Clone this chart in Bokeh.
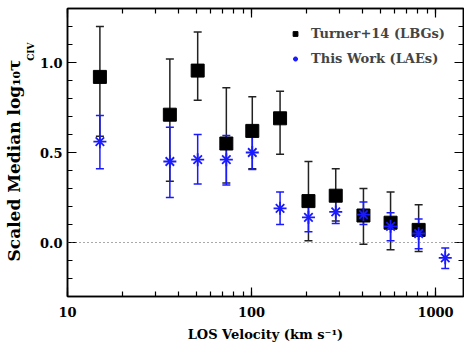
from bokeh.plotting import figure
from bokeh.models import (ColumnDataSource, Whisker, TeeHead, Span, Legend, LegendItem,
                          LinearAxis, LogAxis, Title, SingleIntervalTicker, LogTicker, Range1d,
                          PrintfTickFormatter)
from bokeh.embed import file_html
from bokeh.resources import INLINE

# Turner+14 (LBGs)
vel_t = [15, 36, 51, 73, 101, 143, 204, 287, 406, 570, 810]
med_t = [0.92, 0.71, 0.955, 0.55, 0.62, 0.69, 0.23, 0.26, 0.15, 0.11, 0.07]
lo_t = [0.59, 0.34, 0.79, 0.33, 0.41, 0.49, 0.01, 0.12, -0.01, -0.04, -0.05]
hi_t = [1.20, 1.02, 1.17, 0.86, 0.81, 0.84, 0.45, 0.41, 0.30, 0.28, 0.21]

# This Work (LAEs)
vel_l = [15, 36, 51, 73, 101, 143, 204, 287, 406, 570, 810, 1130]
med_l = [0.56, 0.45, 0.46, 0.46, 0.50, 0.19, 0.14, 0.17, 0.155, 0.09, 0.05, -0.085]
lo_l = [0.41, 0.25, 0.325, 0.32, 0.405, 0.10, 0.06, 0.105, 0.10, 0.01, -0.035, -0.145]
hi_l = [0.705, 0.64, 0.60, 0.595, 0.62, 0.28, 0.24, 0.235, 0.225, 0.165, 0.13, -0.03]

x_label = "LOS Velocity (km s\u207b\u00b9)"
y_label = "Scaled Median log\u2081\u2080\u03c4"
y_sub = "CIV"
names = ["Turner+14 (LBGs)", "This Work (LAEs)"]

FONT = "DejaVu Serif"
BLUE = "#1a1aff"

src_t = ColumnDataSource(dict(x=vel_t, y=med_t, lo=lo_t, hi=hi_t))
src_l = ColumnDataSource(dict(x=vel_l, y=med_l, lo=lo_l, hi=hi_l))

p = figure(width=464, height=344, x_axis_type="log",
           x_range=Range1d(10, 1420), y_range=Range1d(-0.3, 1.3),
           output_backend="svg", toolbar_location=None,
           min_border_left=67, min_border_right=1, min_border_top=8, min_border_bottom=46)
p.xgrid.visible = False
p.ygrid.visible = False
p.outline_line_color = "black"
p.outline_line_width = 1.5
p.background_fill_color = "white"
p.border_fill_color = "white"

def style_axis(ax, labels=True):
    ax.axis_line_color = "black"
    ax.axis_line_width = 1.5
    ax.major_tick_in = 9
    ax.major_tick_out = 0
    ax.minor_tick_in = 5
    ax.minor_tick_out = 0
    ax.major_tick_line_color = "black"
    ax.minor_tick_line_color = "black"
    ax.major_tick_line_width = 1.2
    ax.minor_tick_line_width = 1.2
    ax.major_label_text_font = FONT
    ax.major_label_text_font_style = "bold"
    ax.major_label_text_font_size = "13px"
    ax.major_label_text_color = "black"
    ax.axis_label_text_font = FONT
    ax.axis_label_text_font_style = "bold"
    ax.axis_label_text_font_size = "13px"
    ax.axis_label_text_color = "black"
    if not labels:
        ax.major_label_text_font_size = "1px"
        ax.major_label_text_alpha = 0
        ax.major_label_standoff = 0

yt = SingleIntervalTicker(interval=0.5, num_minor_ticks=5)
xt = LogTicker(num_minor_ticks=10)

p.xaxis.ticker = xt
p.yaxis.ticker = yt
style_axis(p.xaxis[0])
style_axis(p.yaxis[0])
p.xaxis.formatter = PrintfTickFormatter(format="%d")
p.yaxis.formatter = PrintfTickFormatter(format="%.1f")
p.xaxis.axis_label = x_label
p.xaxis.major_label_standoff = 10
p.xaxis.axis_label_standoff = 7
p.yaxis.major_label_standoff = 5

ra = LinearAxis(ticker=yt)
style_axis(ra, labels=False)
p.add_layout(ra, "right")
ta = LogAxis(ticker=xt)
style_axis(ta, labels=False)
p.add_layout(ta, "above")

# y-axis label: main text plus the "CIV" subscript beside it
t_sub = Title(text=y_sub, align="right", offset=34, standoff=1, text_color="black",
              text_font=FONT, text_font_style="bold", text_font_size="9px")
p.add_layout(t_sub, "left")
t_main = Title(text=y_label, align="left", offset=35, standoff=0, text_color="black",
               text_font=FONT, text_font_style="bold", text_font_size="17px")
p.add_layout(t_main, "left")

p.add_layout(Span(location=0, dimension="width", line_color="#555555",
                  line_dash="1 3", line_width=1))

wt = Whisker(source=src_t, base="x", lower="lo", upper="hi", dimension="height",
             line_color="#222222", line_width=1.5,
             upper_head=TeeHead(size=8, line_color="#222222", line_width=1.5),
             lower_head=TeeHead(size=8, line_color="#222222", line_width=1.5))
p.add_layout(wt)
r_t = p.scatter("x", "y", source=src_t, marker="square", size=13,
                fill_color="black", line_color="black")

wl = Whisker(source=src_l, base="x", lower="lo", upper="hi", dimension="height",
             line_color=BLUE, line_width=1.5,
             upper_head=TeeHead(size=8, line_color=BLUE, line_width=1.5),
             lower_head=TeeHead(size=8, line_color=BLUE, line_width=1.5))
p.add_layout(wl)
r_l1 = p.scatter("x", "y", source=src_l, marker="x", size=12,
                 line_color=BLUE, line_width=1.8)
r_l2 = p.scatter("x", "y", source=src_l, marker="cross", size=13,
                 line_color=BLUE, line_width=1.8)

leg = Legend(items=[LegendItem(label=names[0], renderers=[r_t]),
                    LegendItem(label=names[1], renderers=[r_l1, r_l2])],
             location="top_right", border_line_color=None, background_fill_alpha=0,
             label_text_font=FONT, label_text_font_style="bold",
             label_text_font_size="13px", glyph_width=12, glyph_height=15,
             label_standoff=10, spacing=10, padding=4, margin=18)
p.add_layout(leg)

open("out.html", "w").write(file_html(p, INLINE))
